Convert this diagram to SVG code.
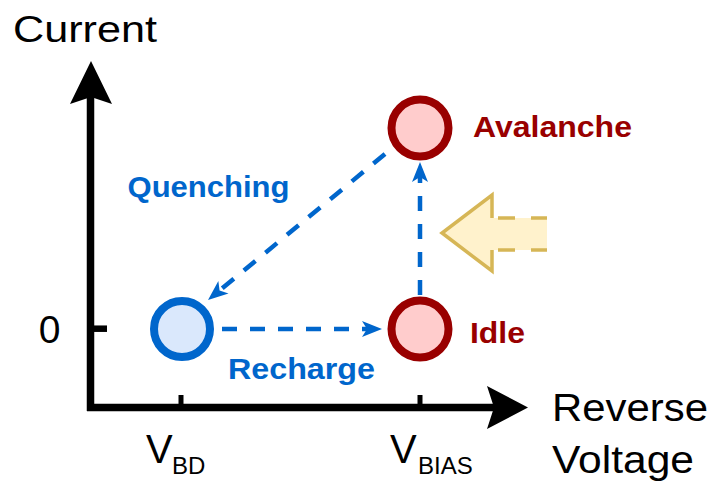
<svg xmlns="http://www.w3.org/2000/svg" width="715" height="483" viewBox="0 0 715 483">
<style>
text{font-family:"Liberation Sans",Arial,sans-serif}
.lbl{font-size:37px;fill:#000}
.sub{font-size:24px;fill:#000}
.red{font-size:30px;font-weight:bold;fill:#990000}
.blue{font-size:30px;font-weight:bold;fill:#0066cc}
.axis{stroke:#000;stroke-width:7.5;fill:none}
.tick{stroke:#000;stroke-width:5;fill:none}
.st-red{fill:#ffcccc;stroke:#990000;stroke-width:8}
.st-blue{fill:#dae8fc;stroke:#0066cc;stroke-width:8}
.dash{stroke:#0066cc;stroke-width:4.5;stroke-dasharray:15 13;fill:none}
.ah{fill:#0066cc}
</style>
<g id="axes">
<line class="axis" x1="90.5" y1="411" x2="90.5" y2="97"/>
<line class="axis" x1="87" y1="407.5" x2="495" y2="407.5"/>
<polygon points="91,61 112,104 91,97 70,104" fill="#000"/>
<polygon points="528,407.5 487,386 494,407.5 487,429" fill="#000"/>
<line class="tick" x1="181" y1="395" x2="181" y2="404"/>
<line class="tick" x1="420" y1="395" x2="420" y2="404"/>
<line class="axis" x1="94" y1="328.7" x2="107" y2="328.7" style="stroke-width:6.5"/>
<text class="lbl" x="13" y="42" textLength="144" lengthAdjust="spacingAndGlyphs">Current</text>
<text class="lbl" x="552" y="421" style="font-size:38px" textLength="156" lengthAdjust="spacingAndGlyphs">Reverse</text>
<text class="lbl" x="552" y="473" style="font-size:38px" textLength="142" lengthAdjust="spacingAndGlyphs">Voltage</text>
<text class="lbl" x="49.5" y="343" style="font-size:39px" text-anchor="middle">0</text>
<text class="lbl" x="146" y="463" style="font-size:40px">V</text>
<text class="sub" x="172" y="474">BD</text>
<text class="lbl" x="390" y="463" style="font-size:40px">V</text>
<text class="sub" x="418" y="474">BIAS</text>
</g>
<g id="connectors">
<line class="dash" x1="222" y1="329" x2="367" y2="329"/>
<polygon class="ah" points="382,329 362,321 367,329 362,337"/>
<line class="dash" x1="420" y1="295" x2="420" y2="177"/>
<polygon class="ah" points="420,162 412,182 420,177 428,182"/>
<line class="dash" x1="385" y1="154" x2="219.6" y2="290.5"/>
<polygon class="ah" transform="translate(208,300) rotate(140.5)" points="0,0 -20,-8 -15,0 -20,8"/>
<text class="blue" x="127.5" y="197" textLength="162" lengthAdjust="spacingAndGlyphs">Quenching</text>
<text class="blue" x="228" y="379" textLength="147" lengthAdjust="spacingAndGlyphs">Recharge</text>
</g>
<g id="node-breakdown">
<circle class="st-blue" cx="182" cy="329" r="28"/>
</g>
<g id="node-idle">
<circle class="st-red" cx="420" cy="329" r="28.5"/>
<text class="red" x="470" y="343" textLength="55" lengthAdjust="spacingAndGlyphs">Idle</text>
</g>
<g id="node-avalanche">
<circle class="st-red" cx="420" cy="128" r="28.5"/>
<text class="red" x="473" y="137" textLength="159" lengthAdjust="spacingAndGlyphs">Avalanche</text>
</g>
<g id="bias-arrow">
<polygon points="547,218 492,218 492,195 442,233 492,271 492,250 547,250" fill="#fff2cc"/>
<polyline points="492,218 492,195 442,233 492,271 492,250" fill="none" stroke="#d6b656" stroke-width="3.5" stroke-linejoin="miter"/>
<line x1="498" y1="218" x2="547" y2="218" stroke="#d6b656" stroke-width="3.5" stroke-dasharray="17 16"/>
<line x1="498" y1="250" x2="547" y2="250" stroke="#d6b656" stroke-width="3.5" stroke-dasharray="17 16"/>
</g>
</svg>
